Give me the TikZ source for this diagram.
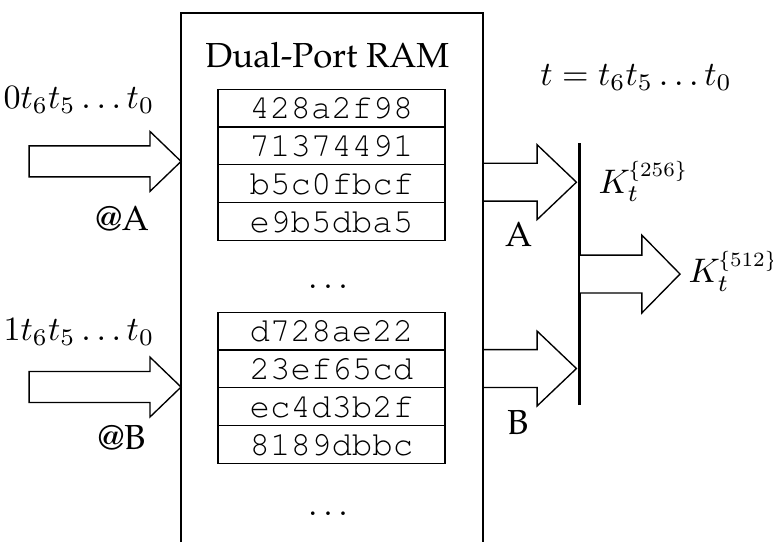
\documentclass[tikz,border=0pt]{standalone}
\usepackage[T1,TU]{fontenc}
\usetikzlibrary{positioning}
\newcommand{\palfont}{\fontencoding{T1}\fontfamily{ppl}\fontsize{10.2}{12}\selectfont}
\newcommand{\hexfont}{\fontencoding{T1}\fontfamily{pcr}\selectfont}
\newcommand{\ksup}[1]{\kern-0.5pt\scalebox{0.85}{$\scriptstyle\{#1\}$}}
% fat arrow: tail x, mid y, neck x, tip x, half body, half head
\newcommand{\fatarrow}[6]{%
  \draw[fat] (#1,#2-#5) -- (#3,#2-#5) -- (#3,#2-#6) -- (#4,#2)
    -- (#3,#2+#6) -- (#3,#2+#5) -- (#1,#2+#5) -- cycle;}
\tikzset{
  cell/.style={draw,line width=0.4pt,minimum width=23.4mm,minimum height=3.9mm,
    inner sep=0pt,outer sep=0pt,font=\hexfont},
  fat/.style={draw,thin,fill=white},
  lbl/.style={font=\palfont},
  bus/.style={line width=0.9pt}
}
\begin{document}
\begin{tikzpicture}[x=3.9mm,y=3.9mm]
\useasboundingbox (0,0) rectangle (20.45,14.34);
% the RAM
\draw[semithick] (4.79,0) -- (4.79,13.99) -- (12.78,13.99) -- (12.78,0);
\node[lbl] (title) at (8.66,12.88) {Dual-Port RAM};
\node[cell] (ramA1) at (8.77,11.48) {428a2f98};
\node[cell,below=0pt of ramA1] (ramA2) {71374491};
\node[cell,below=0pt of ramA2] (ramA3) {b5c0fbcf};
\node[cell,below=0pt of ramA3] (ramA4) {e9b5dba5};
\node (dotsA) at (8.68,6.75) {$\dots$};
\node[cell] (ramB1) at (8.77,5.58) {d728ae22};
\node[cell,below=0pt of ramB1] (ramB2) {23ef65cd};
\node[cell,below=0pt of ramB2] (ramB3) {ec4d3b2f};
\node[cell,below=0pt of ramB3] (ramB4) {8189dbbc};
\node (dotsB) at (8.68,0.74) {$\dots$};
% addresses
\fatarrow{0.77}{10.07}{3.97}{4.79}{0.41}{0.79}
\fatarrow{0.77}{4.10}{3.97}{4.79}{0.41}{0.79}
\node (addrA) at (2.09,11.69) {$0t_6t_5\dots t_0$};
\node (addrB) at (2.09,5.55) {$1t_6t_5\dots t_0$};
\node[lbl] (atA) at (3.24,8.54) {@A};
\node[lbl] (atB) at (3.22,2.75) {@B};
% outputs
\fatarrow{12.78}{9.52}{14.21}{15.25}{0.5}{0.99}
\fatarrow{12.78}{4.59}{14.21}{15.25}{0.5}{0.99}
\node[lbl] (portA) at (13.72,8.13) {A};
\node[lbl] (portB) at (13.70,3.17) {B};
\draw[bus] (15.32,3.62) -- (15.32,10.56);
\fatarrow{15.32}{7.09}{16.98}{17.99}{0.5}{1.03}
\node[anchor=west,inner sep=0pt] (kA) at (15.82,9.54) {$K_t^{\ksup{256}}$};
\node[anchor=west,inner sep=0pt] (kOut) at (18.2,7.17) {$K_t^{\ksup{512}}$};
\node (tdef) at (16.83,12.29) {$t = t_6t_5\dots t_0$};
\end{tikzpicture}
\end{document}
